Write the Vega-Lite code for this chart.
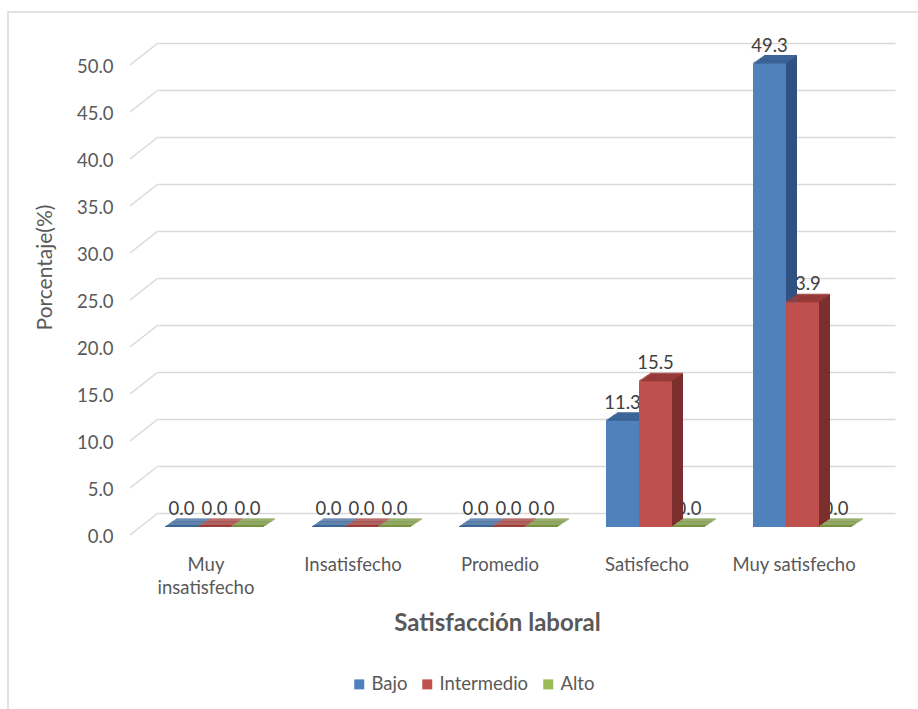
{
  "$schema": "https://vega.github.io/schema/vega-lite/v6.json",
  "width": 910,
  "height": 697,
  "autosize": {"type": "none"},
  "padding": {"left": 8, "top": 12, "right": 0, "bottom": 0},
  "background": "white",
  "config": {
    "font": "Lato",
    "view": {"stroke": "#d9d9d9", "strokeWidth": 1.5, "strokeDash": [910, 1607, 697]}
  },
  "datasets": {
    "encuesta": [
      {"satisfaccion": "Muy insatisfecho", "nivel": "Bajo", "valor": 0.0},
      {"satisfaccion": "Muy insatisfecho", "nivel": "Intermedio", "valor": 0.0},
      {"satisfaccion": "Muy insatisfecho", "nivel": "Alto", "valor": 0.0},
      {"satisfaccion": "Insatisfecho", "nivel": "Bajo", "valor": 0.0},
      {"satisfaccion": "Insatisfecho", "nivel": "Intermedio", "valor": 0.0},
      {"satisfaccion": "Insatisfecho", "nivel": "Alto", "valor": 0.0},
      {"satisfaccion": "Promedio", "nivel": "Bajo", "valor": 0.0},
      {"satisfaccion": "Promedio", "nivel": "Intermedio", "valor": 0.0},
      {"satisfaccion": "Promedio", "nivel": "Alto", "valor": 0.0},
      {"satisfaccion": "Satisfecho", "nivel": "Bajo", "valor": 11.3},
      {"satisfaccion": "Satisfecho", "nivel": "Intermedio", "valor": 15.5},
      {"satisfaccion": "Satisfecho", "nivel": "Alto", "valor": 0.0},
      {"satisfaccion": "Muy satisfecho", "nivel": "Bajo", "valor": 49.3},
      {"satisfaccion": "Muy satisfecho", "nivel": "Intermedio", "valor": 23.9},
      {"satisfaccion": "Muy satisfecho", "nivel": "Alto", "valor": 0.0}
    ],
    "escala": [
      {"v": 0}, {"v": 5}, {"v": 10}, {"v": 15}, {"v": 20}, {"v": 25},
      {"v": 30}, {"v": 35}, {"v": 40}, {"v": 45}, {"v": 50}
    ]
  },
  "resolve": {"scale": {"x": "independent"}, "axis": {"y": "independent"}},
  "layer": [
    {
      "description": "Floor-to-wall connectors of the 3D back wall grid",
      "data": {"name": "escala"},
      "mark": {"type": "rule", "color": "#d9d9d9", "strokeWidth": 1.5, "yOffset": 22, "y2Offset": 0},
      "encoding": {
        "x": {"datum": 0, "type": "quantitative", "scale": {"domain": [0, 1], "range": [122, 150]}, "axis": null},
        "x2": {"datum": 1},
        "y": {"field": "v", "type": "quantitative", "scale": {"domain": [0, 50], "range": [501, 31], "nice": false, "zero": true}, "axis": null},
        "y2": {"field": "v"}
      }
    },
    {
      "data": {"name": "encuesta"},
      "encoding": {
        "x": {
          "field": "satisfaccion",
          "type": "nominal",
          "sort": ["Muy insatisfecho", "Insatisfecho", "Promedio", "Satisfecho", "Muy satisfecho"],
          "scale": {"range": [150, 887], "paddingInner": 0.32653, "paddingOuter": 0.17007, "align": 0.14},
          "axis": {
            "orient": "bottom", "offset": -154, "domain": false, "ticks": false, "tickSize": 0,
            "labelPadding": 0, "labelOffset": -8.5, "labelAngle": 0, "labelFontSize": 18.5,
            "labelColor": "#595959", "labelBaseline": "top", "labelLineHeight": 23,
            "labelOverlap": false, "labelLimit": 0,
            "labelExpr": "datum.label == 'Muy insatisfecho' ? ['Muy', 'insatisfecho'] : datum.label",
            "grid": false,
            "title": "Satisfacción laboral", "titleFontSize": 24, "titleFontWeight": "bold",
            "titleColor": "#595959", "titleX": 489, "titleY": 75, "titleAlign": "center", "titleBaseline": "alphabetic"
          }
        },
        "y": {
          "field": "valor",
          "type": "quantitative",
          "scale": {"domain": [0, 50], "range": [501, 31], "nice": false, "zero": true},
          "axis": {
            "orient": "left", "offset": -105, "values": [0, 5, 10, 15, 20, 25, 30, 35, 40, 45, 50],
            "format": ".1f", "domain": false, "ticks": false, "tickSize": 0, "labelPadding": 0,
            "labelOffset": 23, "labelFontSize": 18.5, "labelColor": "#595959", "labelFlush": false,
            "labelOverlap": false, "grid": true, "gridColor": "#d9d9d9", "gridWidth": 1.5,
            "title": "Porcentaje(%)", "titleFontSize": 21, "titleFontWeight": "normal", "titleColor": "#595959",
            "titleAngle": -90, "titleX": -68, "titleY": 255, "titleAlign": "center", "titleBaseline": "middle"
          }
        }
      },
      "resolve": {"scale": {"xOffset": "independent", "color": "independent"}},
      "layer": [
        {
          "description": "Value labels, drawn behind the bars",
          "mark": {"type": "text", "baseline": "alphabetic", "dy": 2, "fontSize": 18.5, "color": "#404040"},
          "encoding": {
            "xOffset": {"field": "nivel", "type": "nominal", "sort": ["Bajo", "Intermedio", "Alto"], "scale": {"type": "point", "range": [0, 99], "padding": 0.5}},
            "text": {"field": "valor", "type": "quantitative", "format": ".1f"}
          }
        },
        {
          "description": "Depth of the bars: side face, step 1",
          "mark": {"type": "bar", "yOffset": 13.0625, "y2Offset": 13.0625},
          "encoding": {
            "xOffset": {"field": "nivel", "type": "nominal", "sort": ["Bajo", "Intermedio", "Alto"], "scale": {"range": [1.375, 100.375], "padding": 0}},
            "y2": {"datum": 0},
            "color": {"field": "nivel", "type": "nominal", "scale": {"domain": ["Bajo", "Intermedio", "Alto"], "range": ["#2f5283", "#7a2f2d", "#5e7432"]}, "legend": null}
          }
        },
        {
          "mark": {"type": "bar", "yOffset": 12.125, "y2Offset": 12.125},
          "encoding": {
            "xOffset": {"field": "nivel", "type": "nominal", "sort": ["Bajo", "Intermedio", "Alto"], "scale": {"range": [2.75, 101.75], "padding": 0}},
            "y2": {"datum": 0},
            "color": {"field": "nivel", "type": "nominal", "scale": {"domain": ["Bajo", "Intermedio", "Alto"], "range": ["#2f5283", "#7a2f2d", "#5e7432"]}, "legend": null}
          }
        },
        {
          "mark": {"type": "bar", "yOffset": 11.1875, "y2Offset": 11.1875},
          "encoding": {
            "xOffset": {"field": "nivel", "type": "nominal", "sort": ["Bajo", "Intermedio", "Alto"], "scale": {"range": [4.125, 103.125], "padding": 0}},
            "y2": {"datum": 0},
            "color": {"field": "nivel", "type": "nominal", "scale": {"domain": ["Bajo", "Intermedio", "Alto"], "range": ["#2f5283", "#7a2f2d", "#5e7432"]}, "legend": null}
          }
        },
        {
          "mark": {"type": "bar", "yOffset": 10.25, "y2Offset": 10.25},
          "encoding": {
            "xOffset": {"field": "nivel", "type": "nominal", "sort": ["Bajo", "Intermedio", "Alto"], "scale": {"range": [5.5, 104.5], "padding": 0}},
            "y2": {"datum": 0},
            "color": {"field": "nivel", "type": "nominal", "scale": {"domain": ["Bajo", "Intermedio", "Alto"], "range": ["#2f5283", "#7a2f2d", "#5e7432"]}, "legend": null}
          }
        },
        {
          "mark": {"type": "bar", "yOffset": 9.3125, "y2Offset": 9.3125},
          "encoding": {
            "xOffset": {"field": "nivel", "type": "nominal", "sort": ["Bajo", "Intermedio", "Alto"], "scale": {"range": [6.875, 105.875], "padding": 0}},
            "y2": {"datum": 0},
            "color": {"field": "nivel", "type": "nominal", "scale": {"domain": ["Bajo", "Intermedio", "Alto"], "range": ["#2f5283", "#7a2f2d", "#5e7432"]}, "legend": null}
          }
        },
        {
          "mark": {"type": "bar", "yOffset": 8.375, "y2Offset": 8.375},
          "encoding": {
            "xOffset": {"field": "nivel", "type": "nominal", "sort": ["Bajo", "Intermedio", "Alto"], "scale": {"range": [8.25, 107.25], "padding": 0}},
            "y2": {"datum": 0},
            "color": {"field": "nivel", "type": "nominal", "scale": {"domain": ["Bajo", "Intermedio", "Alto"], "range": ["#2f5283", "#7a2f2d", "#5e7432"]}, "legend": null}
          }
        },
        {
          "mark": {"type": "bar", "yOffset": 7.4375, "y2Offset": 7.4375},
          "encoding": {
            "xOffset": {"field": "nivel", "type": "nominal", "sort": ["Bajo", "Intermedio", "Alto"], "scale": {"range": [9.625, 108.625], "padding": 0}},
            "y2": {"datum": 0},
            "color": {"field": "nivel", "type": "nominal", "scale": {"domain": ["Bajo", "Intermedio", "Alto"], "range": ["#2f5283", "#7a2f2d", "#5e7432"]}, "legend": null}
          }
        },
        {
          "mark": {"type": "bar", "yOffset": 6.5, "y2Offset": 6.5},
          "encoding": {
            "xOffset": {"field": "nivel", "type": "nominal", "sort": ["Bajo", "Intermedio", "Alto"], "scale": {"range": [11, 110], "padding": 0}},
            "y2": {"datum": 0},
            "color": {"field": "nivel", "type": "nominal", "scale": {"domain": ["Bajo", "Intermedio", "Alto"], "range": ["#2f5283", "#7a2f2d", "#5e7432"]}, "legend": null}
          }
        },
        {
          "description": "Top face of the bars, built from thin slices receding in depth",
          "mark": {"type": "bar", "yOffset": 13, "y2Offset": 14},
          "encoding": {
            "xOffset": {"field": "nivel", "type": "nominal", "sort": ["Bajo", "Intermedio", "Alto"], "scale": {"range": [0, 99], "padding": 0}},
            "y2": {"field": "valor"},
            "color": {"field": "nivel", "type": "nominal", "scale": {"domain": ["Bajo", "Intermedio", "Alto"], "range": ["#3c6699", "#9d3e3b", "#789340"]}, "legend": null}
          }
        },
        {
          "mark": {"type": "bar", "yOffset": 12.0625, "y2Offset": 13.0625},
          "encoding": {
            "xOffset": {"field": "nivel", "type": "nominal", "sort": ["Bajo", "Intermedio", "Alto"], "scale": {"range": [1.375, 100.375], "padding": 0}},
            "y2": {"field": "valor"},
            "color": {"field": "nivel", "type": "nominal", "scale": {"domain": ["Bajo", "Intermedio", "Alto"], "range": ["#3c6699", "#9d3e3b", "#789340"]}, "legend": null}
          }
        },
        {
          "mark": {"type": "bar", "yOffset": 11.125, "y2Offset": 12.125},
          "encoding": {
            "xOffset": {"field": "nivel", "type": "nominal", "sort": ["Bajo", "Intermedio", "Alto"], "scale": {"range": [2.75, 101.75], "padding": 0}},
            "y2": {"field": "valor"},
            "color": {"field": "nivel", "type": "nominal", "scale": {"domain": ["Bajo", "Intermedio", "Alto"], "range": ["#3c6699", "#9d3e3b", "#789340"]}, "legend": null}
          }
        },
        {
          "mark": {"type": "bar", "yOffset": 10.1875, "y2Offset": 11.1875},
          "encoding": {
            "xOffset": {"field": "nivel", "type": "nominal", "sort": ["Bajo", "Intermedio", "Alto"], "scale": {"range": [4.125, 103.125], "padding": 0}},
            "y2": {"field": "valor"},
            "color": {"field": "nivel", "type": "nominal", "scale": {"domain": ["Bajo", "Intermedio", "Alto"], "range": ["#3c6699", "#9d3e3b", "#789340"]}, "legend": null}
          }
        },
        {
          "mark": {"type": "bar", "yOffset": 9.25, "y2Offset": 10.25},
          "encoding": {
            "xOffset": {"field": "nivel", "type": "nominal", "sort": ["Bajo", "Intermedio", "Alto"], "scale": {"range": [5.5, 104.5], "padding": 0}},
            "y2": {"field": "valor"},
            "color": {"field": "nivel", "type": "nominal", "scale": {"domain": ["Bajo", "Intermedio", "Alto"], "range": ["#3c6699", "#9d3e3b", "#789340"]}, "legend": null}
          }
        },
        {
          "mark": {"type": "bar", "yOffset": 8.3125, "y2Offset": 9.3125},
          "encoding": {
            "xOffset": {"field": "nivel", "type": "nominal", "sort": ["Bajo", "Intermedio", "Alto"], "scale": {"range": [6.875, 105.875], "padding": 0}},
            "y2": {"field": "valor"},
            "color": {"field": "nivel", "type": "nominal", "scale": {"domain": ["Bajo", "Intermedio", "Alto"], "range": ["#3c6699", "#9d3e3b", "#789340"]}, "legend": null}
          }
        },
        {
          "mark": {"type": "bar", "yOffset": 7.375, "y2Offset": 8.375},
          "encoding": {
            "xOffset": {"field": "nivel", "type": "nominal", "sort": ["Bajo", "Intermedio", "Alto"], "scale": {"range": [8.25, 107.25], "padding": 0}},
            "y2": {"field": "valor"},
            "color": {"field": "nivel", "type": "nominal", "scale": {"domain": ["Bajo", "Intermedio", "Alto"], "range": ["#3c6699", "#9d3e3b", "#789340"]}, "legend": null}
          }
        },
        {
          "mark": {"type": "bar", "yOffset": 6.4375, "y2Offset": 7.4375},
          "encoding": {
            "xOffset": {"field": "nivel", "type": "nominal", "sort": ["Bajo", "Intermedio", "Alto"], "scale": {"range": [9.625, 108.625], "padding": 0}},
            "y2": {"field": "valor"},
            "color": {"field": "nivel", "type": "nominal", "scale": {"domain": ["Bajo", "Intermedio", "Alto"], "range": ["#3c6699", "#9d3e3b", "#789340"]}, "legend": null}
          }
        },
        {
          "mark": {"type": "bar", "yOffset": 5.5, "y2Offset": 6.5},
          "encoding": {
            "xOffset": {"field": "nivel", "type": "nominal", "sort": ["Bajo", "Intermedio", "Alto"], "scale": {"range": [11, 110], "padding": 0}},
            "y2": {"field": "valor"},
            "color": {"field": "nivel", "type": "nominal", "scale": {"domain": ["Bajo", "Intermedio", "Alto"], "range": ["#3c6699", "#9d3e3b", "#789340"]}, "legend": null}
          }
        },
        {
          "description": "Front face of the bars",
          "mark": {"type": "bar", "yOffset": 14, "y2Offset": 14},
          "encoding": {
            "xOffset": {"field": "nivel", "type": "nominal", "sort": ["Bajo", "Intermedio", "Alto"], "scale": {"range": [0, 99], "padding": 0}},
            "y2": {"datum": 0},
            "color": {
              "field": "nivel", "type": "nominal",
              "scale": {"domain": ["Bajo", "Intermedio", "Alto"], "range": ["#4f81bd", "#c0504d", "#9bbb59"]},
              "legend": {
                "orient": "none", "legendX": 342, "legendY": 663, "direction": "horizontal", "title": null,
                "symbolType": "square", "symbolSize": 100, "symbolStrokeWidth": 0,
                "labelFontSize": 18.5, "labelColor": "#595959", "columnPadding": 10, "labelOffset": 3
              }
            }
          }
        }
      ]
    }
  ]
}
